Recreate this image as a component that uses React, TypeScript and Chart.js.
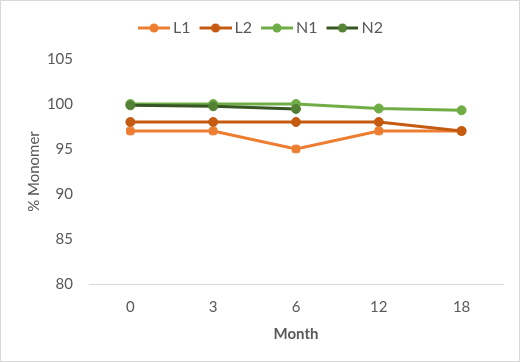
import React, { useEffect, useRef } from "react";
import { Chart, registerables } from "chart.js";

Chart.register(...registerables);

const months = ["0", "3", "6", "12", "18"];
const l1 = [97, 97, 95, 97, 97];
const l2 = [98, 98, 98, 98, 97];
const n1 = [100, 100, 100, 99.5, 99.3];
const n2 = [99.85, 99.75, 99.45, null, null];
const seriesNames = ["L1", "L2", "N1", "N2"];

const FONT = "Lato, 'Open Sans', sans-serif";
const TXT = "#595959";

// icon drawn right-shifted so the gap to the text is small
function legendIcon(line: string, dot: string) {
  const c = document.createElement("canvas");
  c.width = 42;
  c.height = 12;
  const ctx = c.getContext("2d")!;
  ctx.strokeStyle = line;
  ctx.lineWidth = 3;
  ctx.lineCap = "butt";
  ctx.beginPath();
  ctx.moveTo(10, 6);
  ctx.lineTo(42, 6);
  ctx.stroke();
  ctx.fillStyle = dot;
  ctx.beginPath();
  ctx.arc(26, 6, 4.5, 0, Math.PI * 2);
  ctx.fill();
  return c;
}

export default function App() {
  const ref = useRef<HTMLCanvasElement>(null);
  useEffect(() => {
    const colors = [
      { line: "#ED7D31", dot: "#ED7D31", style: "rectRounded" },
      { line: "#C55A11", dot: "#C55A11", style: "circle" },
      { line: "#70AD47", dot: "#70AD47", style: "circle" },
      { line: "#375623", dot: "#548235", style: "circle" },
    ];
    const vals = [l1, l2, n1, n2];
    const icons = colors.map((c) => legendIcon(c.line, c.dot));
    const legendExtra = {
      id: "legendExtra",
      beforeInit(ch: any) {
        const lg = ch.legend;
        if (lg) {
          const origFit = lg.fit;
          lg.fit = function () {
            origFit.call(this);
            this.height += 15;
            this.minSize && (this.minSize.height = this.height);
          };
          const origDraw = lg.draw;
          lg.draw = function () {
            const ctx = this.ctx;
            ctx.save();
            ctx.translate(6, 2);
            origDraw.call(this);
            ctx.restore();
          };
        }
      },
    };
    const chart = new Chart(ref.current!, {
      type: "line",
      data: {
        labels: months,
        datasets: vals.map((v, i) => ({
          label: seriesNames[i],
          data: v,
          borderColor: colors[i].line,
          backgroundColor: colors[i].dot,
          pointBackgroundColor: colors[i].dot,
          pointBorderColor: colors[i].dot,
          pointStyle: colors[i].style as any,
          pointRadius: 4.5,
          pointBorderWidth: 1,
          borderWidth: 3,
          spanGaps: false,
          order: 4 - i,
        })),
      },
      plugins: [legendExtra],
      options: {
        animation: false,
        responsive: false,
        layout: { padding: { top: 13, right: 16, bottom: 18, left: 0 } },
        plugins: {
          tooltip: { enabled: false },
          legend: {
            position: "top",
            labels: {
              usePointStyle: true,
              pointStyleWidth: 32,
              boxHeight: 12,
              padding: 4,
              color: TXT,
              font: { family: FONT, size: 16 },
              sort: (a: any, b: any) => a.datasetIndex - b.datasetIndex,
              generateLabels: (ch: any) =>
                ch.data.datasets.map((d: any, i: number) => ({
                  text: d.label,
                  pointStyle: icons[i],
                  fillStyle: colors[i].dot,
                  strokeStyle: colors[i].line,
                  lineWidth: 0,
                  hidden: false,
                  datasetIndex: i,
                  fontColor: TXT,
                })),
            },
          },
        },
        scales: {
          x: {
            offset: true,
            grid: { display: false, drawTicks: false },
            border: { display: true, color: "#D9D9D9", width: 1 },
            ticks: { color: TXT, font: { family: FONT, size: 15 }, padding: 14 },
            title: {
              display: true,
              text: "Month",
              color: TXT,
              font: { family: FONT, size: 15, weight: "bold" },
              padding: { top: -5, bottom: 0 },
            },
          },
          y: {
            min: 80,
            max: 105,
            grid: { display: false, drawTicks: false },
            border: { display: false },
            ticks: { stepSize: 5, color: TXT, font: { family: FONT, size: 15 }, padding: 16 },
            title: {
              display: true,
              text: "% Monomer",
              color: TXT,
              font: { family: FONT, size: 15 },
              padding: { top: 24, bottom: 0 },
            },
            afterFit: (s: any) => {
              s.width = 88;
            },
          },
        },
      },
    });
    return () => chart.destroy();
  }, []);
  return (
    <div
      style={{
        position: "fixed",
        left: 0,
        top: 0,
        width: 520,
        height: 362,
        boxSizing: "border-box",
        border: "1px solid #D9D9D9",
        background: "#fff",
      }}
    >
      <canvas ref={ref} width={518} height={360} style={{ display: "block" }} />
    </div>
  );
}
